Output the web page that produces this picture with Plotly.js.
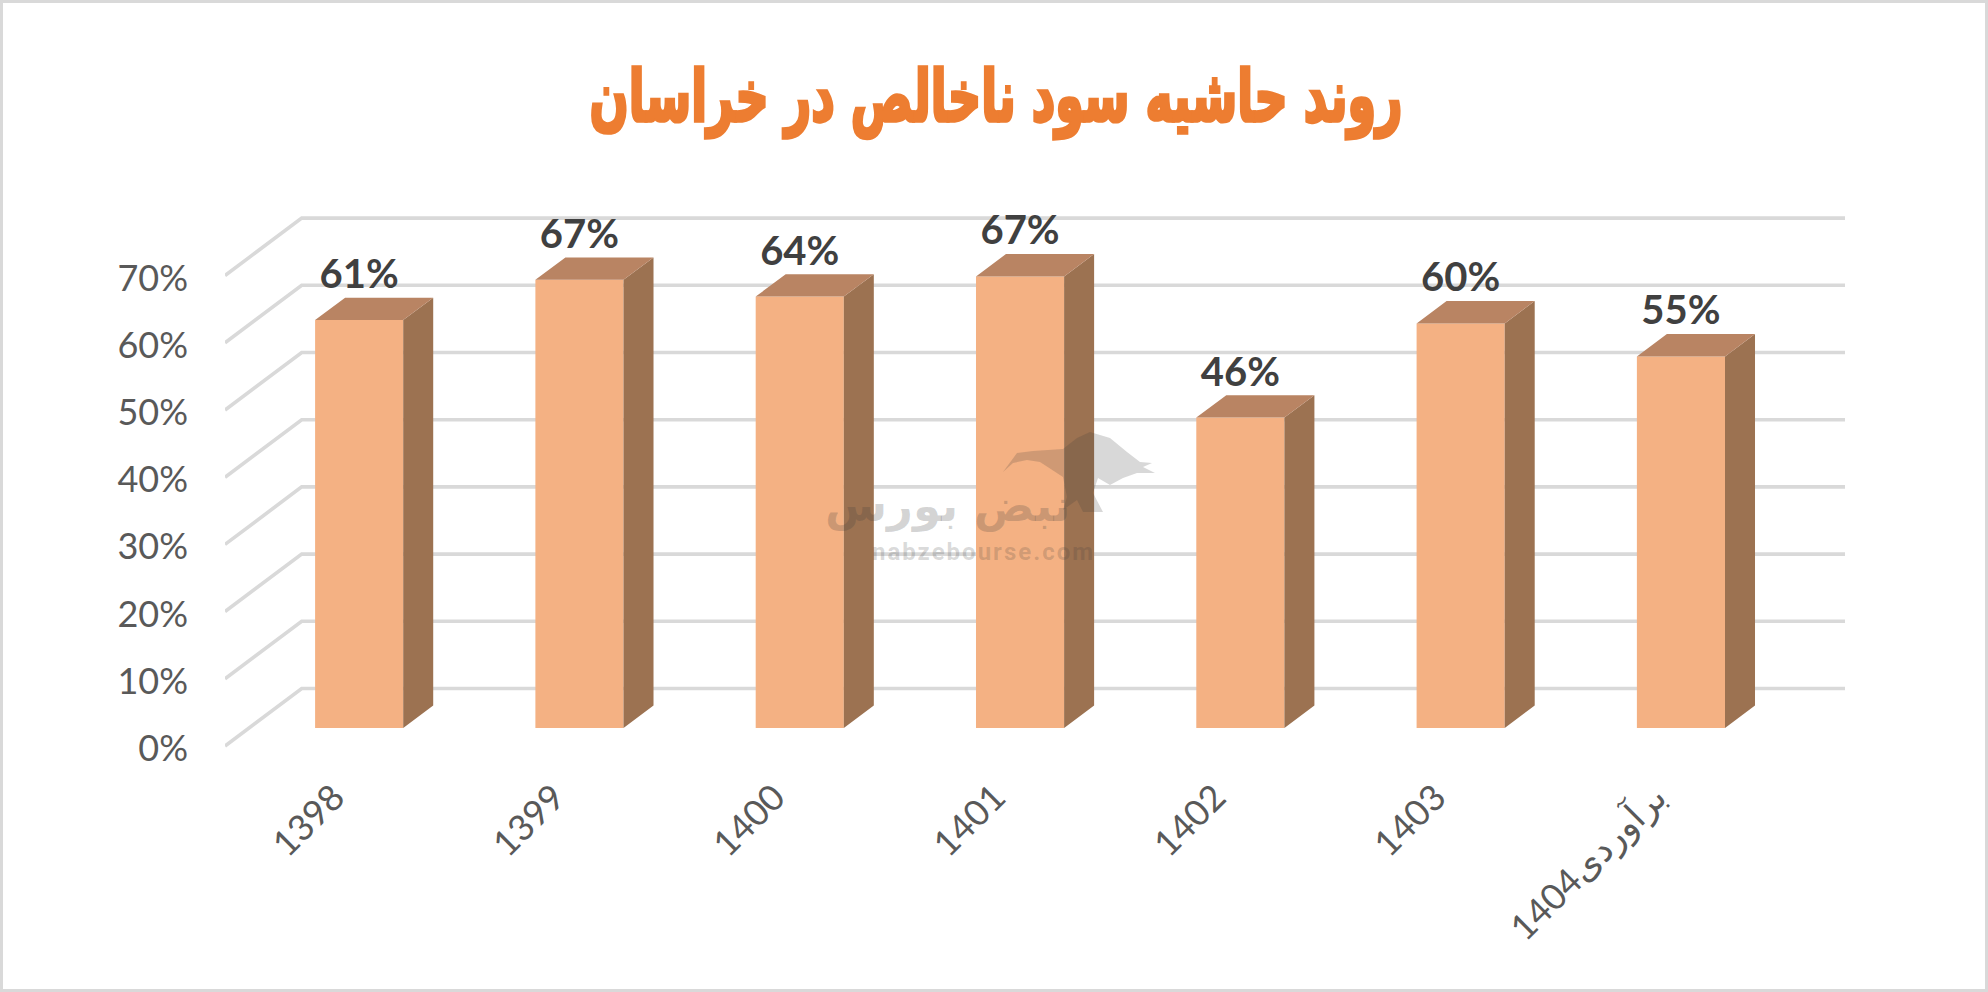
<!DOCTYPE html>
<html><head><meta charset="utf-8">
<script src="https://cdn.plot.ly/plotly-3.0.1.min.js"></script>
<style>html,body{margin:0;padding:0;background:#fff;overflow:hidden}
#c{width:1988px;height:992px}
#frame{position:fixed;left:0;top:0;width:1988px;height:992px;box-sizing:border-box;border:3px solid #d9d9d9;pointer-events:none}
.gtitle{stroke:#ED7D31;stroke-width:2.4px;paint-order:stroke;transform-box:fill-box;transform-origin:center;transform:scaleY(1.55)}
g.annotation[data-index="1"] text{letter-spacing:2px}
</style>
</head><body><div id="c"></div><div id="frame"></div>
<script>
const titleText = "روند حاشیه سود ناخالص در خراسان";
const categories = ["1398","1399","1400","1401","1402","1403","1404برآوردی"];
const marginValues = [60.7,66.7,64.2,67.2,46.2,60.2,55.3];
const yTicks = [0,10,20,30,40,50,60,70];
const yTickLabels = ["0%","10%","20%","30%","40%","50%","60%","70%"];

const W=1988,H=992,L=225,R=1845,T=200,Zero=746,B=751;
const unitX=220.3, unitY=6.72;
const x0=(L-359.15)/unitX, x1=x0+(R-L)/unitX;
const y0=(Zero-B)/unitY, y1=(Zero-T)/unitY;
const idx=categories.map((_,i)=>i);
const barW=0.4, hw=barW/2;
const floorGap=18/unitY;
const bdx=30/unitX, bdy=22.4/unitY;
const gdx=76.7/unitX, gdy=57.5/unitY;
const labelLift=42/unitY;

const sideX=[],sideY=[],topX=[],topY=[];
marginValues.forEach((v,i)=>{
  const t=floorGap+v;
  sideX.push(i+hw,i+hw+bdx,i+hw+bdx,i+hw,i+hw,null);
  sideY.push(floorGap,floorGap+bdy,t+bdy,t,floorGap,null);
  topX.push(i-hw,i-hw+bdx,i+hw+bdx,i+hw,i-hw,null);
  topY.push(t,t+bdy,t+bdy,t,t,null);
});

const traces=[
 {type:'bar',x:idx,y:marginValues,base:idx.map(()=>floorGap),width:barW,
  marker:{color:'#F4B183',line:{width:0}},hoverinfo:'y',showlegend:false},
 {type:'scatter',mode:'lines',x:sideX,y:sideY,fill:'toself',fillcolor:'#9C7251',
  line:{width:0,color:'#9C7251'},hoverinfo:'skip',showlegend:false},
 {type:'scatter',mode:'lines',x:topX,y:topY,fill:'toself',fillcolor:'#B98463',
  line:{width:0,color:'#B98463'},hoverinfo:'skip',showlegend:false},
 {type:'scatter',mode:'text',x:idx,y:marginValues.map(v=>v+floorGap+labelLift),
  text:marginValues.map(v=>Math.round(v)+"%"),textposition:'middle center',
  textfont:{family:'Lato, "Open Sans", sans-serif',size:40,weight:700,color:'#404040'},
  hoverinfo:'skip',showlegend:false}
];

const gridShapes=yTicks.map(v=>({type:'path',layer:'below',xref:'x',yref:'y',
  path:`M ${x0} ${v} L ${x0+gdx} ${v+gdy} L ${x1} ${v+gdy}`,
  line:{color:'#D9D9D9',width:3.6}}));

const px=x=>(x-L)/(R-L), py=y=>(B-y)/(B-T);
const bullPts=[[1003,472],[1017,453],[1033,451],[1063,449],[1077,438],[1090,432],[1110,438],[1127,452],[1140,462],[1152,463],[1143,467],[1155,473],[1137,473],[1123,478],[1110,485],[1098,478],[1093,493],[1103,512],[1083,512],[1077,500],[1063,510],[1067,497],[1063,477],[1040,462],[1027,460],[1013,463]];
const bullPath='M '+bullPts.map(p=>px(p[0])+' '+py(p[1])).join(' L ')+' Z';
const bull={type:'path',layer:'above',xref:'paper',yref:'paper',path:bullPath,
  fillcolor:'rgba(60,60,60,0.2)',line:{width:0}};

const layout={
 width:W,height:H,paper_bgcolor:'#fff',plot_bgcolor:'rgba(0,0,0,0)',showlegend:false,
 margin:{l:L,r:W-R,t:T,b:H-B,autoexpand:false},
 title:{text:titleText,x:996/W,xanchor:'center',y:1-96/H,yanchor:'middle',
   font:{family:'"DejaVu Sans", sans-serif',size:46,weight:700,color:'#ED7D31'}},
 xaxis:{type:'linear',range:[x0,x1],tickmode:'array',tickvals:idx.map(i=>i-0.114),ticktext:categories,
   tickangle:-45,showgrid:false,zeroline:false,showline:false,ticks:'',ticklabelstandoff:17,
   tickfont:{family:'Lato, "DejaVu Sans", sans-serif',size:36,color:'#595959'}},
 yaxis:{type:'linear',range:[y0,y1],tickmode:'array',tickvals:yTicks.map(v=>v-0.37),ticktext:yTickLabels,
   showgrid:false,zeroline:false,showline:false,ticks:'',ticklabelstandoff:36,
   tickfont:{family:'Lato, "Open Sans", sans-serif',size:36,color:'#595959'}},
 shapes:[...gridShapes,bull],
 annotations:[
  {xref:'paper',yref:'paper',x:px(947),y:py(505),text:'نبض بورس',showarrow:false,
   font:{family:'"DejaVu Sans", sans-serif',size:45,weight:700,color:'rgba(60,60,60,0.22)'}},
  {xref:'paper',yref:'paper',x:px(983),y:py(552),text:'nabzebourse.com',showarrow:false,
   font:{family:'Roboto, sans-serif',size:24,weight:700,color:'rgba(60,60,60,0.2)'}}
 ]
};
Plotly.newPlot('c',traces,layout,{displayModeBar:false,staticPlot:true});
</script></body></html>
